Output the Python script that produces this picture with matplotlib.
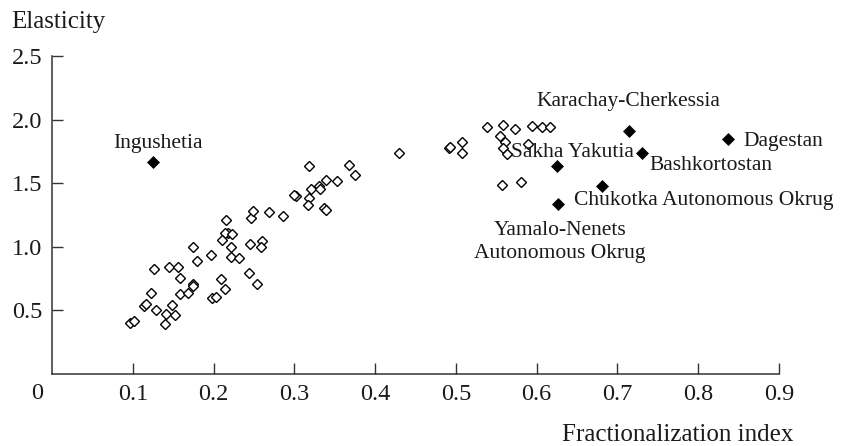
import matplotlib
matplotlib.use("Agg")
import matplotlib.pyplot as plt

# -----------------------------
# DATA
# -----------------------------
frac_other = [0.0965, 0.1015, 0.1225, 0.114, 0.117, 0.126, 0.129, 0.141, 0.140, 0.149,
              0.152, 0.145, 0.156, 0.158, 0.159, 0.169, 0.175, 0.174, 0.175, 0.180,
              0.197, 0.198, 0.203, 0.209, 0.214, 0.215, 0.218, 0.2145, 0.210, 0.223,
              0.2215, 0.221, 0.231, 0.244, 0.254, 0.246, 0.249, 0.269, 0.245, 0.2595,
              0.259, 0.2855, 0.302, 0.300, 0.318, 0.3165, 0.3205, 0.331, 0.332, 0.337,
              0.339, 0.339, 0.353, 0.318, 0.368, 0.375, 0.4295, 0.491, 0.493, 0.507,
              0.508, 0.538, 0.5585, 0.573, 0.555, 0.561, 0.5585, 0.5635, 0.594, 0.607,
              0.617, 0.5895, 0.5565, 0.580]
elast_other = [0.403, 0.419, 0.639, 0.537, 0.550, 0.825, 0.503, 0.472, 0.393, 0.540,
               0.466, 0.844, 0.839, 0.752, 0.631, 0.634, 0.708, 0.692, 1.001, 0.886,
               0.933, 0.595, 0.603, 0.749, 0.666, 1.211, 1.111, 1.106, 1.053, 1.101,
               1.001, 0.922, 0.914, 0.796, 0.708, 1.224, 1.284, 1.276, 1.022, 1.046,
               1.001, 1.242, 1.399, 1.405, 1.386, 1.329, 1.457, 1.478, 1.452, 1.307,
               1.289, 1.525, 1.517, 1.635, 1.641, 1.565, 1.735, 1.779, 1.785, 1.826,
               1.740, 1.939, 1.958, 1.924, 1.873, 1.821, 1.774, 1.730, 1.952, 1.944,
               1.944, 1.806, 1.486, 1.509]

regions = ["Ingushetia", "Karachay-Cherkessia", "Sakha Yakutia", "Bashkortostan",
           "Dagestan", "Chukotka Autonomous Okrug", "Yamalo-Nenets\nAutonomous Okrug"]
frac_named = [0.1246, 0.7145, 0.6246, 0.730, 0.837, 0.681, 0.626]
elast_named = [1.664, 1.910, 1.638, 1.735, 1.845, 1.480, 1.334]
# label anchor (x, y, ha)
label_pos = [(0.1306, 1.814, "center"), (0.714, 2.146, "center"), (0.644, 1.740, "center"),
             (0.739, 1.638, "left"), (0.8564, 1.826, "left"), (0.646, 1.368, "left"),
             (0.6287, 1.036, "center")]

xticks = [0.1, 0.2, 0.3, 0.4, 0.5, 0.6, 0.7, 0.8, 0.9]
yticks = [0.5, 1.0, 1.5, 2.0, 2.5]

plt.rcParams["font.family"] = ["Liberation Serif", "DejaVu Serif"]

fig = plt.figure(figsize=(8.41, 4.46), dpi=100)
ax = fig.add_axes([0.0618, 0.1614, 0.8645, 0.713])

ax.plot(frac_other, elast_other, "D", ms=4.6, mfc="white", mec="black", mew=1.0,
        linestyle="none")
ax.plot(frac_named, elast_named, "D", ms=6.3, mfc="black", mec="black", mew=0.5,
        linestyle="none")

for (lx, ly, ha), name in zip(label_pos, regions):
    ax.text(lx, ly, name, ha=ha, va="center", fontsize=15.5, color="#1a1a1a",
            linespacing=1.25)

ax.set_xlim(0, 0.9)
ax.set_ylim(0, 2.5)
ax.set_xticks(xticks)
ax.set_xticklabels([f"{v:.1f}" for v in xticks])
ax.set_yticks(yticks)
ax.set_yticklabels([f"{v:.1f}" for v in yticks])
ax.tick_params(direction="in", length=8, width=1, colors="#333333", labelcolor="#1a1a1a",
               labelsize=17.5)
ax.tick_params(axis="x", pad=7)
ax.tick_params(axis="y", pad=7)
for side in ["top", "right"]:
    ax.spines[side].set_visible(False)
for side in ["left", "bottom"]:
    ax.spines[side].set_color("#333333")
    ax.spines[side].set_linewidth(1.1)

# origin label
ax.text(-0.021, -0.06, "0", transform=ax.transAxes, ha="center", va="center",
        fontsize=17.5, color="#1a1a1a")

fig.text(0.0139, 0.951, "Elasticity", ha="left", va="center", fontsize=18, color="#1a1a1a")
fig.text(0.943, 0.0247, "Fractionalization index", ha="right", va="center", fontsize=18,
         color="#1a1a1a")

fig.savefig("out.png", dpi=100)
